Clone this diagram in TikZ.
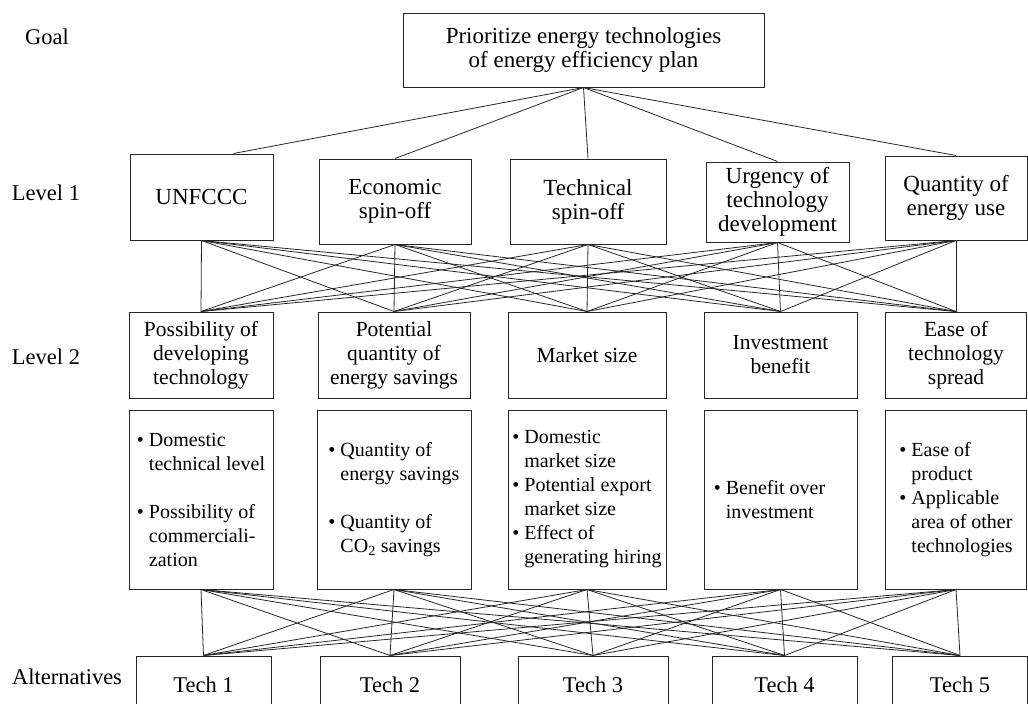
\documentclass[tikz,border=0pt]{standalone}
\usepackage{fontspec}
\setmainfont{Liberation Serif}
\usepackage{tikz}
\usetikzlibrary{calc}
\usetikzlibrary{positioning}

\newcommand{\hang}{\hphantom{\textbullet\ }}

\begin{document}
\begin{tikzpicture}[x=1pt, y=-1pt,
      lvl/.style ={font=\fontsize{22.5}{25}\selectfont},
      box/.style ={rectangle, draw=black!85, line width=1pt, align=center, inner sep=0pt, font=\fontsize{23}{24}\selectfont},
      crit/.style ={box, font=\fontsize{21.5}{24}\selectfont},
      descbox/.style={box, align=left, minimum height=179pt, font=\fontsize{20}{24}\selectfont},
      alt/.style ={box, minimum height=58pt, font=\fontsize{22.5}{24}\selectfont},
      link/.style ={draw=black!85, line width=0.8pt},
      node distance=11pt
    ]
    \useasboundingbox (0,0) rectangle (1028,704) ;

    % level labels
    \node [lvl] (lgoal) at (47,37) {Goal} ;
    \node [lvl] (lone) at (46,193) {Level 1} ;
    \node [lvl] (ltwo) at (46,357) {Level 2} ;
    \node [lvl] (lalt) at (67,677) {Alternatives} ;

    \node [box, minimum width=361pt, minimum height=74pt] (goal) at (583.5,50) {Prioritize energy technologies\\of energy efficiency plan} ;

    \node [box, minimum width=143pt, minimum height=86pt] (unfccc) at (201.5,197) {UNFCCC} ;
    \node [box, minimum width=152pt, minimum height=85pt] (econ) at (395,201.5) {Economic\\spin-off} ;
    \node [box, minimum width=156pt, minimum height=85pt] (techs) at (588,201.5) {Technical\\spin-off} ;
    \node [box, minimum width=143pt, minimum height=80pt] (urgency) at (777.5,202) {Urgency of\\technology\\development} ;
    \node [box, minimum width=142pt, minimum height=84pt] (quantity) at (956,198) {Quantity of\\energy use} ;

    \node [crit, minimum width=144pt, minimum height=86pt] (possib) at (201,355) {Possibility of\\developing\\technology} ;
    \node [crit, minimum width=152pt, minimum height=86pt] (potent) at (394,355) {Potential\\quantity of\\energy savings} ;
    \node [crit, minimum width=158pt, minimum height=86pt] (market) at (587,355) {Market size} ;
    \node [crit, minimum width=153pt, minimum height=86pt] (invest) at (780.5,355) {Investment\\benefit} ;
    \node [crit, minimum width=141pt, minimum height=86pt] (ease) at (956,355) {Ease of\\technology\\spread} ;

    \node [descbox, minimum width=144pt] (dpossib) [below=of possib] {\textbullet\ Domestic\\\hang technical level\\[24pt]\textbullet\ Possibility of\\\hang commerciali-\\\hang zation} ;
    \node [descbox, minimum width=154pt] (dpotent) [below=of potent] {\textbullet\ Quantity of\\\hang energy savings\\[24pt]\textbullet\ Quantity of\\\hang CO\textsubscript{2} savings} ;
    \node [descbox, minimum width=158pt] (dmarket) [below=of market] {\textbullet\ Domestic\\\hang market size\\\textbullet\ Potential export\\\hang market size\\\textbullet\ Effect of\\\hang generating hiring} ;
    \node [descbox, minimum width=153pt] (dinvest) [below=of invest] {\textbullet\ Benefit over\hspace*{22pt}\\\hang investment} ;
    \node [descbox, minimum width=141pt] (dease) [below=of ease] {\textbullet\ Ease of\\\hang product\\\textbullet\ Applicable\\\hang area of other\\\hang technologies} ;

    \node [alt, minimum width=135pt] (tech1) at (203.5,685) {Tech 1} ;
    \node [alt, minimum width=140pt] (tech2) at (390,685) {Tech 2} ;
    \node [alt, minimum width=150pt] (tech3) at (593,685) {Tech 3} ;
    \node [alt, minimum width=145pt] (tech4) at (784.5,685) {Tech 4} ;
    \node [alt, minimum width=135pt] (tech5) at (960,685) {Tech 5} ;

    \draw [link] (goal.south) -- ([xshift=32pt]unfccc.north) ;
    \foreach \n in {econ, techs, urgency, quantity}
      \draw [link] (goal.south) -- (\n.north) ;

    \foreach \a in {unfccc, econ, techs, urgency, quantity}
      \foreach \b in {possib, potent, market, invest, ease}
        \draw [link] (\a.south) -- (\b.north) ;

    \foreach \a in {dpossib, dpotent, dmarket, dinvest, dease}
      \foreach \b in {1,...,5}
        \draw [link] (\a.south) -- (tech\b.north) ;
  \end{tikzpicture}
\end{document}
